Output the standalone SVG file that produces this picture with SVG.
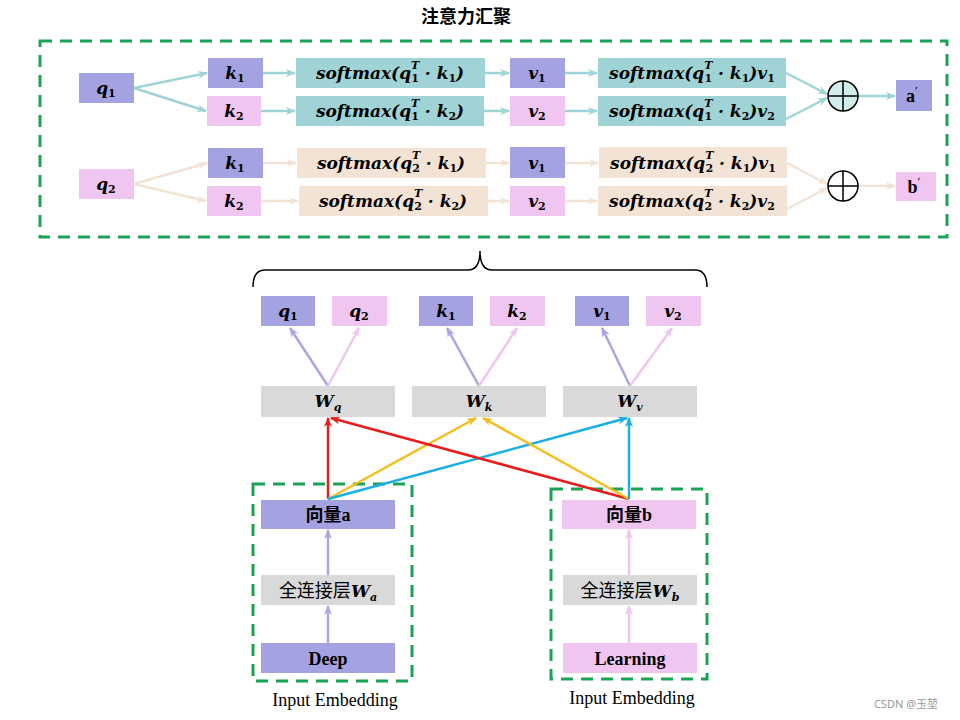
<svg xmlns="http://www.w3.org/2000/svg" width="960" height="720" viewBox="0 0 960 720">
<style>
.lav{fill:#a4a2e0}.pnk{fill:#f0c6f0}.gry{fill:#d9d9d9}.teal{fill:#9fd3d5}.beige{fill:#f3e3d5}
.m{font-family:"DejaVu Serif",serif;font-weight:bold;font-style:italic;font-size:17px;fill:#000}
.s{font-size:11px;font-style:normal}
.si{font-size:11px}
.b{font-family:"Liberation Serif","Noto Sans CJK SC",serif;font-weight:bold;font-size:18px;fill:#000}
.r{font-family:"Liberation Serif","Noto Sans CJK SC",serif;font-size:18px;fill:#000}
.dash{fill:none;stroke:#1aa356;stroke-width:3;stroke-dasharray:12,8}
.cT{stroke:#9fd3d5;stroke-width:2.5;fill:none}
.cB{stroke:#f3e3d5;stroke-width:2.5;fill:none}
.cL{stroke:#a9a6e0;stroke-width:2.5;fill:none}
.cP{stroke:#f0c6f0;stroke-width:2.5;fill:none}
.cR{stroke:#e81c1c;stroke-width:2.5;fill:none}
.cY{stroke:#f5bd1e;stroke-width:2.5;fill:none}
.cU{stroke:#1aaee3;stroke-width:2.5;fill:none}
</style>
<defs>
<marker id="aT" markerWidth="10" markerHeight="10" refX="9" refY="5" orient="auto" markerUnits="userSpaceOnUse"><path d="M0,1 L10,5 L0,9 L3,5z" fill="#9fd3d5"/></marker>
<marker id="aB" markerWidth="10" markerHeight="10" refX="9" refY="5" orient="auto" markerUnits="userSpaceOnUse"><path d="M0,1 L10,5 L0,9 L3,5z" fill="#f3e3d5"/></marker>
<marker id="aL" markerWidth="10" markerHeight="10" refX="9" refY="5" orient="auto" markerUnits="userSpaceOnUse"><path d="M0,1 L10,5 L0,9 L3,5z" fill="#a9a6e0"/></marker>
<marker id="aP" markerWidth="10" markerHeight="10" refX="9" refY="5" orient="auto" markerUnits="userSpaceOnUse"><path d="M0,1 L10,5 L0,9 L3,5z" fill="#f0c6f0"/></marker>
<marker id="aR" markerWidth="10" markerHeight="10" refX="9" refY="5" orient="auto" markerUnits="userSpaceOnUse"><path d="M0,1 L10,5 L0,9 L3,5z" fill="#e81c1c"/></marker>
<marker id="aY" markerWidth="10" markerHeight="10" refX="9" refY="5" orient="auto" markerUnits="userSpaceOnUse"><path d="M0,1 L10,5 L0,9 L3,5z" fill="#f5bd1e"/></marker>
<marker id="aU" markerWidth="10" markerHeight="10" refX="9" refY="5" orient="auto" markerUnits="userSpaceOnUse"><path d="M0,1 L10,5 L0,9 L3,5z" fill="#1aaee3"/></marker>
</defs>
<rect width="960" height="720" fill="#fff"/>

<text x="466" y="23" text-anchor="middle" class="b" style="font-size:18px">注意力汇聚</text>
<rect class="dash" x="40" y="41" width="907" height="196"/>
<rect class="dash" x="253" y="484" width="159" height="197"/>
<rect class="dash" x="551" y="489" width="156" height="190"/>

<path d="M253,287 Q253,270 265,270 L468,270 Q480,270 480,251 Q480,270 492,270 L695,270 Q707,270 707,287" fill="none" stroke="#000" stroke-width="1.5"/>

<g id="connectors">
<path class="cT" marker-end="url(#aT)" d="M134,88 L207,73"/>
<path class="cT" marker-end="url(#aT)" d="M134,88 L206,111"/>
<path class="cT" marker-end="url(#aT)" d="M263,73 L295,73"/>
<path class="cT" marker-end="url(#aT)" d="M261,111 L295,111"/>
<path class="cT" marker-end="url(#aT)" d="M485,73 L509,73"/>
<path class="cT" marker-end="url(#aT)" d="M484,111 L509,111"/>
<path class="cT" marker-end="url(#aT)" d="M565,73 L597,73"/>
<path class="cT" marker-end="url(#aT)" d="M565,111 L597,111"/>
<path class="cT" marker-end="url(#aT)" d="M786,73 L827,94"/>
<path class="cT" marker-end="url(#aT)" d="M786,119 L827,98"/>
<path class="cT" marker-end="url(#aT)" d="M858,96 L895,96"/>

<path class="cB" marker-end="url(#aB)" d="M134,184 L207,163"/>
<path class="cB" marker-end="url(#aB)" d="M134,184 L206,201"/>
<path class="cB" marker-end="url(#aB)" d="M263,163 L296,163"/>
<path class="cB" marker-end="url(#aB)" d="M261,201 L298,201"/>
<path class="cB" marker-end="url(#aB)" d="M486,163 L509,163"/>
<path class="cB" marker-end="url(#aB)" d="M488,201 L509,201"/>
<path class="cB" marker-end="url(#aB)" d="M565,163 L598,163"/>
<path class="cB" marker-end="url(#aB)" d="M565,201 L597,201"/>
<path class="cB" marker-end="url(#aB)" d="M787,163 L827,184"/>
<path class="cB" marker-end="url(#aB)" d="M787,209 L827,188"/>
<path class="cB" marker-end="url(#aB)" d="M858,186 L895,186"/>

<path class="cL" marker-end="url(#aL)" d="M328,386 L290,328"/>
<path class="cP" marker-end="url(#aP)" d="M328,386 L359,328"/>
<path class="cL" marker-end="url(#aL)" d="M479,386 L447,328"/>
<path class="cP" marker-end="url(#aP)" d="M479,386 L517,328"/>
<path class="cL" marker-end="url(#aL)" d="M630,386 L602,328"/>
<path class="cP" marker-end="url(#aP)" d="M630,386 L672,328"/>

<path class="cR" marker-end="url(#aR)" d="M328,499 L328,418"/>
<path class="cY" marker-end="url(#aY)" d="M328,499 L476,418"/>
<path class="cU" marker-end="url(#aU)" d="M328,499 L627,418"/>
<path class="cR" marker-end="url(#aR)" d="M629,499 L331,418"/>
<path class="cY" marker-end="url(#aY)" d="M629,499 L483,418"/>
<path class="cU" marker-end="url(#aU)" d="M629,499 L629,418"/>

<path class="cL" marker-end="url(#aL)" d="M328,643 L328,606"/>
<path class="cL" marker-end="url(#aL)" d="M328,575 L328,530"/>
<path class="cP" marker-end="url(#aP)" d="M629,643 L629,606"/>
<path class="cP" marker-end="url(#aP)" d="M629,575 L629,530"/>
</g>

<g id="q1top"><rect class="lav" x="79" y="73" width="55" height="30"/><text class="m" x="106" y="94" text-anchor="middle">q<tspan class="s" dy="3">1</tspan></text></g>
<g id="k1a"><rect class="lav" x="208" y="58" width="55" height="30"/><text class="m" x="235" y="79" text-anchor="middle">k<tspan class="s" dy="3">1</tspan></text></g>
<g id="k2a"><rect class="pnk" x="207" y="96" width="54" height="30"/><text class="m" x="234" y="117" text-anchor="middle">k<tspan class="s" dy="3">2</tspan></text></g>
<g id="sm11"><rect class="teal" x="296" y="58" width="189" height="30"/><text class="m" x="390" y="79" text-anchor="middle">softmax(q<tspan class="si" dy="-10">T</tspan><tspan class="s" dx="-8" dy="13">1</tspan><tspan dy="-3"> · k</tspan><tspan class="s" dy="3">1</tspan><tspan dy="-3">)</tspan></text></g>
<g id="sm12"><rect class="teal" x="296" y="96" width="188" height="30"/><text class="m" x="390" y="117" text-anchor="middle">softmax(q<tspan class="si" dy="-10">T</tspan><tspan class="s" dx="-8" dy="13">1</tspan><tspan dy="-3"> · k</tspan><tspan class="s" dy="3">2</tspan><tspan dy="-3">)</tspan></text></g>
<g id="v1a"><rect class="lav" x="510" y="58" width="55" height="30"/><text class="m" x="537" y="79" text-anchor="middle">v<tspan class="s" dy="3">1</tspan></text></g>
<g id="v2a"><rect class="pnk" x="510" y="96" width="55" height="30"/><text class="m" x="537" y="117" text-anchor="middle">v<tspan class="s" dy="3">2</tspan></text></g>
<g id="smv11"><rect class="teal" x="598" y="58" width="188" height="30"/><text class="m" x="692" y="79" text-anchor="middle">softmax(q<tspan class="si" dy="-10">T</tspan><tspan class="s" dx="-8" dy="13">1</tspan><tspan dy="-3"> · k</tspan><tspan class="s" dy="3">1</tspan><tspan dy="-3">)v</tspan><tspan class="s" dy="3">1</tspan></text></g>
<g id="smv12"><rect class="teal" x="598" y="96" width="188" height="30"/><text class="m" x="692" y="117" text-anchor="middle">softmax(q<tspan class="si" dy="-10">T</tspan><tspan class="s" dx="-8" dy="13">1</tspan><tspan dy="-3"> · k</tspan><tspan class="s" dy="3">2</tspan><tspan dy="-3">)v</tspan><tspan class="s" dy="3">2</tspan></text></g>
<g id="sum1"><circle cx="843" cy="96" r="15" fill="#d3ecec" stroke="#000" stroke-width="1.5"/><path d="M828,96 H858 M843,81 V111" stroke="#000" stroke-width="1.5"/></g>
<g id="aprime"><rect class="lav" x="896" y="80" width="36" height="31"/><text class="b" x="912" y="102" text-anchor="middle">a<tspan font-size="10" dy="-8">′</tspan></text></g>

<g id="q2top"><rect class="pnk" x="79" y="169" width="55" height="30"/><text class="m" x="106" y="190" text-anchor="middle">q<tspan class="s" dy="3">2</tspan></text></g>
<g id="k1b"><rect class="lav" x="208" y="148" width="55" height="30"/><text class="m" x="235" y="169" text-anchor="middle">k<tspan class="s" dy="3">1</tspan></text></g>
<g id="k2b"><rect class="pnk" x="207" y="186" width="54" height="30"/><text class="m" x="234" y="207" text-anchor="middle">k<tspan class="s" dy="3">2</tspan></text></g>
<g id="sm21"><rect class="beige" x="297" y="148" width="189" height="30"/><text class="m" x="391" y="169" text-anchor="middle">softmax(q<tspan class="si" dy="-10">T</tspan><tspan class="s" dx="-8" dy="13">2</tspan><tspan dy="-3"> · k</tspan><tspan class="s" dy="3">1</tspan><tspan dy="-3">)</tspan></text></g>
<g id="sm22"><rect class="beige" x="299" y="186" width="189" height="30"/><text class="m" x="393" y="207" text-anchor="middle">softmax(q<tspan class="si" dy="-10">T</tspan><tspan class="s" dx="-8" dy="13">2</tspan><tspan dy="-3"> · k</tspan><tspan class="s" dy="3">2</tspan><tspan dy="-3">)</tspan></text></g>
<g id="v1b"><rect class="lav" x="510" y="147" width="55" height="31"/><text class="m" x="537" y="169" text-anchor="middle">v<tspan class="s" dy="3">1</tspan></text></g>
<g id="v2b"><rect class="pnk" x="510" y="186" width="55" height="30"/><text class="m" x="537" y="207" text-anchor="middle">v<tspan class="s" dy="3">2</tspan></text></g>
<g id="smv21"><rect class="beige" x="599" y="147" width="188" height="31"/><text class="m" x="693" y="169" text-anchor="middle">softmax(q<tspan class="si" dy="-10">T</tspan><tspan class="s" dx="-8" dy="13">2</tspan><tspan dy="-3"> · k</tspan><tspan class="s" dy="3">1</tspan><tspan dy="-3">)v</tspan><tspan class="s" dy="3">1</tspan></text></g>
<g id="smv22"><rect class="beige" x="598" y="186" width="189" height="30"/><text class="m" x="692" y="207" text-anchor="middle">softmax(q<tspan class="si" dy="-10">T</tspan><tspan class="s" dx="-8" dy="13">2</tspan><tspan dy="-3"> · k</tspan><tspan class="s" dy="3">2</tspan><tspan dy="-3">)v</tspan><tspan class="s" dy="3">2</tspan></text></g>
<g id="sum2"><circle cx="843" cy="186" r="15" fill="#fff" stroke="#000" stroke-width="1.5"/><path d="M828,186 H858 M843,171 V201" stroke="#000" stroke-width="1.5"/></g>
<g id="bprime"><rect class="pnk" x="896" y="172" width="40" height="29"/><text class="b" x="914" y="193" text-anchor="middle">b<tspan font-size="10" dy="-8">′</tspan></text></g>

<g id="q1"><rect class="lav" x="261" y="296" width="54" height="30"/><text class="m" x="288" y="317" text-anchor="middle">q<tspan class="s" dy="3">1</tspan></text></g>
<g id="q2"><rect class="pnk" x="332" y="296" width="55" height="30"/><text class="m" x="359" y="317" text-anchor="middle">q<tspan class="s" dy="3">2</tspan></text></g>
<g id="k1"><rect class="lav" x="419" y="296" width="54" height="30"/><text class="m" x="446" y="317" text-anchor="middle">k<tspan class="s" dy="3">1</tspan></text></g>
<g id="k2"><rect class="pnk" x="490" y="296" width="55" height="30"/><text class="m" x="517" y="317" text-anchor="middle">k<tspan class="s" dy="3">2</tspan></text></g>
<g id="v1"><rect class="lav" x="575" y="296" width="54" height="30"/><text class="m" x="602" y="317" text-anchor="middle">v<tspan class="s" dy="3">1</tspan></text></g>
<g id="v2"><rect class="pnk" x="646" y="296" width="55" height="30"/><text class="m" x="673" y="317" text-anchor="middle">v<tspan class="s" dy="3">2</tspan></text></g>

<g id="Wq"><rect class="gry" x="261" y="386" width="134" height="31"/><text class="m" x="328" y="407" text-anchor="middle">W<tspan class="si" dy="4">q</tspan></text></g>
<g id="Wk"><rect class="gry" x="412" y="386" width="134" height="31"/><text class="m" x="479" y="407" text-anchor="middle">W<tspan class="si" dy="4">k</tspan></text></g>
<g id="Wv"><rect class="gry" x="563" y="386" width="134" height="31"/><text class="m" x="630" y="407" text-anchor="middle">W<tspan class="si" dy="4">v</tspan></text></g>

<g id="veca"><rect class="lav" x="261" y="500" width="134" height="29"/><text class="b" x="328" y="521" text-anchor="middle">向量a</text></g>
<g id="fca"><rect class="gry" x="261" y="575" width="134" height="30"/><text class="r" x="328" y="597" text-anchor="middle">全连接层<tspan class="m">W</tspan><tspan class="m si" dy="4">a</tspan></text></g>
<g id="deep"><rect class="lav" x="261" y="643" width="134" height="30"/><text class="b" x="328" y="665" text-anchor="middle">Deep</text></g>
<text class="r" x="335" y="706" text-anchor="middle">Input Embedding</text>

<g id="vecb"><rect class="pnk" x="562" y="500" width="134" height="29"/><text class="b" x="629" y="521" text-anchor="middle">向量b</text></g>
<g id="fcb"><rect class="gry" x="563" y="575" width="134" height="30"/><text class="r" x="630" y="597" text-anchor="middle">全连接层<tspan class="m">W</tspan><tspan class="m si" dy="4">b</tspan></text></g>
<g id="learning"><rect class="pnk" x="563" y="643" width="134" height="30"/><text class="b" x="630" y="665" text-anchor="middle">Learning</text></g>
<text class="r" x="632" y="704" text-anchor="middle">Input Embedding</text>

<text x="906" y="708" text-anchor="middle" font-family="'Noto Sans','Noto Sans CJK SC',sans-serif" font-size="11" fill="#999">CSDN @玉堃</text>
</svg>
